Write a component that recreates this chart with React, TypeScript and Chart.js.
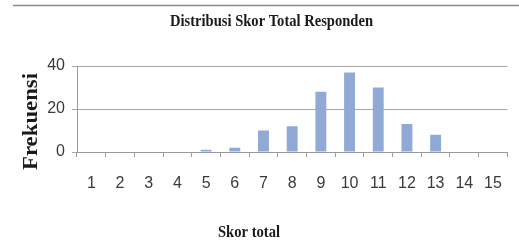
import React, { useEffect, useRef } from "react";
import { Chart, registerables } from "chart.js";

Chart.register(...registerables);

const chartTitle = "Distribusi Skor Total Responden";
const xAxisTitle = "Skor total";
const yAxisTitle = "Frekuensi";
const categories = ["1", "2", "3", "4", "5", "6", "7", "8", "9", "10", "11", "12", "13", "14", "15"];
const frequencies = [0, 0, 0, 0, 1, 2, 10, 12, 28, 37, 30, 13, 8, 0, 0];
const yTickValues = [0, 20, 40];

const W = 519;
const H = 250;

function fitText(
  ctx: CanvasRenderingContext2D,
  text: string,
  font: string,
  targetWidth: number
) {
  ctx.font = font;
  const w = ctx.measureText(text).width;
  const sx = targetWidth / w;
  ctx.scale(sx, 1);
  ctx.textAlign = "center";
  ctx.textBaseline = "alphabetic";
  ctx.fillText(text, 0, 0);
}

export default function App() {
  const ref = useRef<HTMLCanvasElement | null>(null);

  useEffect(() => {
    const canvas = ref.current;
    if (!canvas) return;

    const textPlugin = {
      id: "textPlugin",
      afterDraw(chart: any) {
        const ctx = chart.ctx as CanvasRenderingContext2D;
        ctx.save();
        // top rule
        ctx.strokeStyle = "#8a8a8a";
        ctx.lineWidth = 1.5;
        ctx.beginPath();
        ctx.moveTo(13, 5.5);
        ctx.lineTo(W, 5.5);
        ctx.stroke();

        ctx.fillStyle = "#1a1a1a";
        // main title
        ctx.save();
        ctx.translate(271.5, 26);
        fitText(ctx, chartTitle, 'bold 16.5px "Liberation Serif"', 203);
        ctx.restore();
        // x title
        ctx.save();
        ctx.translate(249, 237);
        fitText(ctx, xAxisTitle, 'bold 16.5px "Liberation Serif"', 62);
        ctx.restore();
        // y title
        ctx.save();
        ctx.translate(36.5, 121.5);
        ctx.rotate(-Math.PI / 2);
        fitText(ctx, yAxisTitle, 'bold 20px "Liberation Serif"', 97);
        ctx.restore();
        ctx.restore();
      },
    };

    const chart = new Chart(canvas, {
      type: "bar",
      data: {
        labels: categories,
        datasets: [
          {
            data: frequencies,
            backgroundColor: "#91a9d5",
            borderWidth: 0,
            barPercentage: 0.38,
            categoryPercentage: 1,
          },
        ],
      },
      options: {
        responsive: false,
        animation: false,
        events: [],
        layout: { padding: { top: 66, right: 3, bottom: 0, left: 0 } },
        plugins: {
          legend: { display: false },
          title: { display: false },
          tooltip: { enabled: false },
        },
        scales: {
          x: {
            offset: true,
            grid: {
              display: true,
              drawOnChartArea: false,
              drawTicks: true,
              tickLength: 5,
              color: "#9a9a9a",
              offset: true,
            },
            border: { display: true, color: "#9a9a9a" },
            ticks: {
              padding: 17,
              color: "#3a3a3a",
              font: { family: '"Liberation Sans Narrow", "Liberation Sans"', size: 16 },
              maxRotation: 0,
              autoSkip: false,
            },
            afterFit(scale: any) {
              scale.height = 98;
            },
          },
          y: {
            min: 0,
            max: 40,
            afterBuildTicks(scale: any) {
              scale.ticks = yTickValues.map((v) => ({ value: v }));
            },
            grid: {
              color: "#a8a8a8",
              tickLength: 5,
              drawTicks: true,
            },
            border: { display: true, color: "#9a9a9a" },
            ticks: {
              padding: 7,
              color: "#3a3a3a",
              font: { family: '"Liberation Sans Narrow", "Liberation Sans"', size: 16 },
            },
            afterFit(scale: any) {
              scale.width = 77;
            },
          },
        },
      },
      plugins: [textPlugin],
    });

    return () => {
      chart.destroy();
    };
  }, []);

  return (
    <div style={{ position: "fixed", left: 0, top: 0, width: W, height: H, background: "#fff" }}>
      <canvas ref={ref} width={W} height={H} style={{ width: W, height: H, display: "block" }} />
    </div>
  );
}
